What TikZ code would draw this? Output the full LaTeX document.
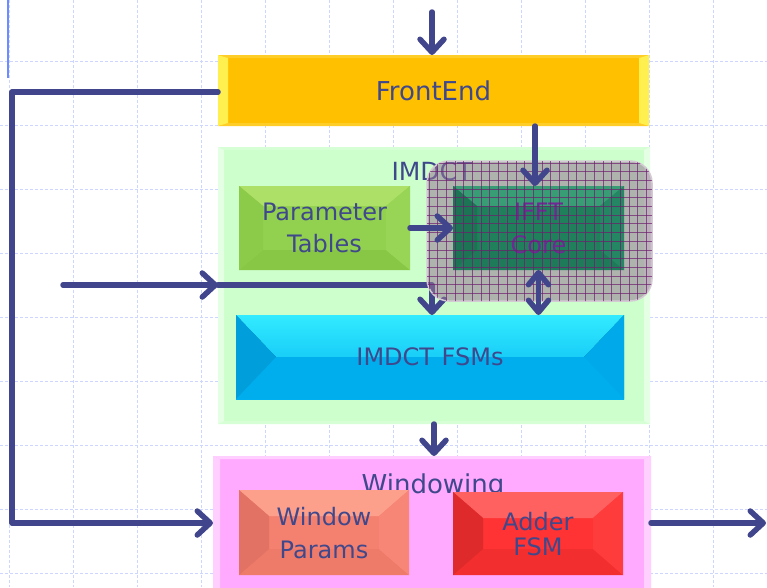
\documentclass[tikz,border=0pt]{standalone}
\usepackage{fontspec}
\setmainfont{DejaVu Sans}
\usetikzlibrary{arrows.meta,calc}
\definecolor{txt}{RGB}{64,72,140}
\definecolor{arrC}{RGB}{65,70,140}
\definecolor{gridc}{RGB}{205,214,255}
\definecolor{blu}{RGB}{110,140,255}
\definecolor{feC}{RGB}{255,192,0}
\definecolor{feS}{RGB}{255,240,80}
\definecolor{feT}{RGB}{255,205,40}
\definecolor{grpG}{RGB}{204,255,204}
\definecolor{grpGe}{RGB}{228,255,228}
\definecolor{grpGt}{RGB}{214,255,214}
\definecolor{ptC}{RGB}{146,208,80}
\definecolor{ptT}{RGB}{172,224,102}
\definecolor{ptB}{RGB}{136,198,70}
\definecolor{ptL}{RGB}{140,202,74}
\definecolor{ptR}{RGB}{152,212,86}
\definecolor{ifC}{RGB}{32,128,92}
\definecolor{ifT}{RGB}{56,156,116}
\definecolor{ifL}{RGB}{28,116,84}
\definecolor{ifR}{RGB}{36,134,98}
\definecolor{ifB}{RGB}{30,122,88}
\definecolor{ovC}{RGB}{150,118,150}
\definecolor{ovE}{RGB}{212,202,212}
\definecolor{ovG}{RGB}{110,30,110}
\definecolor{fsC}{RGB}{0,176,240}
\definecolor{fsT}{RGB}{50,235,255}
\definecolor{fsL}{RGB}{0,158,218}
\definecolor{fsR}{RGB}{0,170,234}
\definecolor{fsB}{RGB}{0,174,238}
\definecolor{wiC}{RGB}{255,170,255}
\definecolor{wiE}{RGB}{255,208,255}
\definecolor{wpC}{RGB}{244,128,111}
\definecolor{wpT}{RGB}{252,160,140}
\definecolor{wpL}{RGB}{226,114,100}
\definecolor{wpR}{RGB}{248,134,118}
\definecolor{wpB}{RGB}{238,122,106}
\definecolor{adC}{RGB}{255,51,51}
\definecolor{adT}{RGB}{255,96,96}
\definecolor{adL}{RGB}{222,42,42}
\definecolor{adR}{RGB}{255,60,60}
\definecolor{adB}{RGB}{242,46,46}
\definecolor{ifTxt}{RGB}{112,40,150}
\tikzset{
  box/.style={inner sep=0pt, outer sep=0pt, draw=none, align=center, text=txt, text depth=0pt},
  bev/.style n args={6}{path picture={
    \fill[#1] (path picture bounding box.north west) -- (path picture bounding box.north east)
      -- ([shift={(-#5,-#6)}]path picture bounding box.north east) -- ([shift={(#5,-#6)}]path picture bounding box.north west) -- cycle;
    \fill[#2] (path picture bounding box.south west) -- (path picture bounding box.south east)
      -- ([shift={(-#5,#6)}]path picture bounding box.south east) -- ([shift={(#5,#6)}]path picture bounding box.south west) -- cycle;
    \fill[#3] (path picture bounding box.north west) -- (path picture bounding box.south west)
      -- ([shift={(#5,#6)}]path picture bounding box.south west) -- ([shift={(#5,-#6)}]path picture bounding box.north west) -- cycle;
    \fill[#4] (path picture bounding box.north east) -- (path picture bounding box.south east)
      -- ([shift={(-#5,#6)}]path picture bounding box.south east) -- ([shift={(-#5,-#6)}]path picture bounding box.north east) -- cycle;
  }},
  gridl/.style={draw=gridc, line width=1pt, dash pattern=on 3pt off 2pt},
  conn/.style={draw=arrC, line width=5.5pt, line join=round, line cap=round,
    -{Straight Barb[length=13pt,width=24pt,round]}},
  conn2/.style={draw=arrC, line width=5.5pt, line join=round,
    {Straight Barb[length=12pt,width=20pt,round]}-{Straight Barb[length=12pt,width=20pt,round]}},
  grplbl/.style={inner sep=0pt, text=txt, anchor=base},
  ovl/.style={inner sep=0pt, outer sep=0pt, rounded corners=22pt, fill=ovC, fill opacity=0.55, draw=ovE, line width=1.5pt},
  ovgrid/.style={draw=ovG, line width=0.9pt, opacity=0.7},
}
\newcommand\lblA{\fontsize{26pt}{32pt}\selectfont}
\newcommand\lblB{\fontsize{24pt}{32pt}\selectfont}
\newcommand\lblC{\fontsize{24pt}{33pt}\selectfont}
\newcommand\lblD{\fontsize{24pt}{25pt}\selectfont}
\newcommand\lblE{\fontsize{25pt}{30pt}\selectfont}
\begin{document}
\begin{tikzpicture}[x=1pt,y=-1pt]
\useasboundingbox (0,0) rectangle (767,587);
\fill[white] (0,0) rectangle (767,587);
% background grid
\foreach \gx in {9,73,...,713} \draw[gridl] (\gx,0) -- (\gx,587);
\foreach \gy in {61,125,...,573} \draw[gridl] (0,\gy) -- (767,\gy);
\draw[blu, line width=1.5pt] (8,0) -- (8,78);

% main blocks
\node[box, minimum width=431pt, minimum height=71pt, fill=feC, font=\lblA,
  bev={feT}{feT}{feS}{feS}{10pt}{3pt}] (fe) at (433.5,90.5) {FrontEnd};
\node[box, minimum width=432pt, minimum height=277pt, fill=grpG,
  bev={grpGt}{grpGt}{grpGe}{grpGe}{6pt}{3pt}] (imdct) at (434,285.5) {};
\node[box, minimum width=438pt, minimum height=136pt, fill=wiC,
  bev={wiE}{wiE}{wiE}{wiE}{7pt}{3pt}] (win) at (432,524) {};
\node[grplbl, font=\lblE] (imdctl) at (432,180) {IMDCT};
\node[grplbl, font=\lblA] (winl) at (433,493) {Windowing};

% inner blocks
\node[box, minimum width=171pt, minimum height=84pt, fill=ptC, font=\lblB,
  bev={ptT}{ptB}{ptL}{ptR}{24pt}{20pt}] (pt) at (324.5,228) {Parameter\\Tables};
\node[box, minimum width=388pt, minimum height=84pt, font=\lblB,
  top color=fsT, bottom color=fsC, middle color=fsC,
  bev={top color=fsT, bottom color=fsC}{fsB}{fsL}{fsR}{40pt}{42pt}] (fsm) at (430,357) {IMDCT FSMs};
\node[box, minimum width=170pt, minimum height=85pt, fill=wpC, font=\lblC,
  bev={wpT}{wpB}{wpL}{wpR}{30pt}{26pt}] (wp) at (324,532.5) {Window\\Params};
\node[box, minimum width=170pt, minimum height=83pt, fill=adC, font=\lblD,
  bev={adT}{adB}{adL}{adR}{30pt}{26pt}] (ad) at (538,533.5) {Adder\\FSM};

% connector under the IFFT overlay
\coordinate (inL) at (63,285);
\coordinate (jn) at (432,285);
\draw[conn] (inL) -- (inL -| imdct.west);
\draw[conn] (inL -| imdct.west) -- (jn) -- (jn |- fsm.north);

% IFFT core with overlay
\node[ovl, minimum width=225pt, minimum height=140pt] (ifftov) at (539.5,231) {};
\node[box, minimum width=171pt, minimum height=84pt, fill=ifC, font=\lblC, text=ifTxt,
  bev={ifT}{ifB}{ifL}{ifR}{24pt}{20pt}] (ifft) at (538.5,228) {IFFT\\Core};
\begin{scope}
  \clip[rounded corners=22pt] (ifftov.north west) rectangle (ifftov.south east);
  \foreach \ox in {0,...,26} \draw[ovgrid] (429+\ox*8.7,160) -- (429+\ox*8.7,302);
  \foreach \oy in {0,...,16} \draw[ovgrid] (426,163+\oy*8.7) -- (653,163+\oy*8.7);
\end{scope}

% connectors
\coordinate (topin) at (432,12);
\draw[conn] (topin) -- (topin |- fe.north);
\coordinate (lc1) at (12,92);
\coordinate (lc2) at (12,523);
\draw[conn] (fe.west |- lc1) -- (lc1) -- (lc2) -- (lc2 -| win.west);
\coordinate (fx) at (535,0);
\draw[conn] (fe.south -| fx) -- (ifft.north -| fx);
\draw[conn] (pt.east) -- (ifft.west);
\draw[conn2] (ifft.south) -- (ifft.south |- fsm.north);
\draw[conn] (imdct.south) -- (imdct.south |- win.north);
\coordinate (wout) at (766,523);
\draw[conn] (win.east |- wout) -- (wout);
\end{tikzpicture}
\end{document}
